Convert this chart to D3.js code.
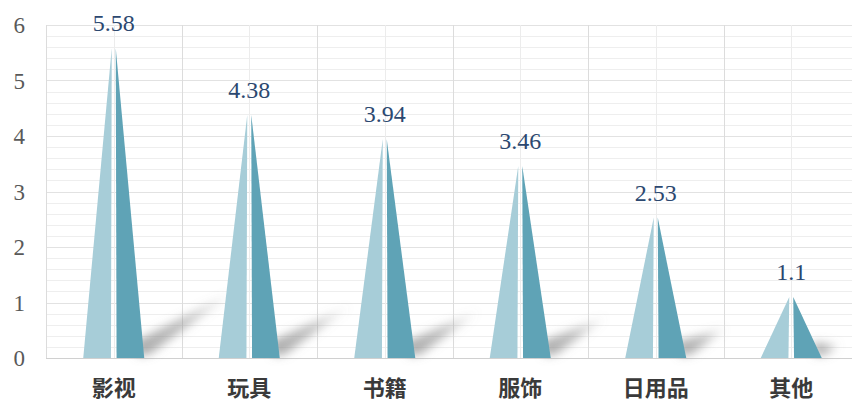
<!DOCTYPE html>
<html>
<head>
<meta charset="utf-8">
<script src="https://cdn.jsdelivr.net/npm/d3@7"></script>
<style>
  html, body { margin: 0; padding: 0; background: #ffffff; }
  svg { display: block; }
</style>
</head>
<body>
<svg id="chart" width="852" height="403"></svg>
<script>
// Category names and their values
const categories = ["影视", "玩具", "书籍", "服饰", "日用品", "其他"];
const values = [5.58, 4.38, 3.94, 3.46, 2.53, 1.1];
const yTicks = [0, 1, 2, 3, 4, 5, 6];

const W = 852, H = 403;
const plot = { left: 46, right: 859, top: 25, bottom: 358 };

const svg = d3.select("#chart");
const defs = svg.append("defs");

const x = d3.scaleBand().domain(categories).range([plot.left, plot.right]).paddingInner(0).paddingOuter(0);
const y = d3.scaleLinear().domain([0, 6]).range([plot.bottom, plot.top]);

// Minor horizontal gridlines every 0.2
const minor = d3.range(0, 6.0001, 0.2).filter(v => Math.abs(v - Math.round(v)) > 1e-6);
svg.append("g").selectAll("line").data(minor).join("line")
  .attr("x1", plot.left).attr("x2", W)
  .attr("y1", d => Math.round(y(d)) + 0.5).attr("y2", d => Math.round(y(d)) + 0.5)
  .attr("stroke", "#eeeeee").attr("stroke-width", 1);

// Major horizontal gridlines
svg.append("g").selectAll("line").data(yTicks).join("line")
  .attr("x1", plot.left).attr("x2", W)
  .attr("y1", d => Math.round(y(d)) + 0.5).attr("y2", d => Math.round(y(d)) + 0.5)
  .attr("stroke", d => d === 0 ? "#d0d0d0" : "#e2e2e2").attr("stroke-width", 1);

// Vertical gridlines: band edges and band centres
const edges = categories.map(c => x(c)).concat([x(categories[categories.length - 1]) + x.bandwidth()]);
svg.append("g").selectAll("line").data(edges).join("line")
  .attr("x1", d => Math.round(d) + 0.5).attr("x2", d => Math.round(d) + 0.5)
  .attr("y1", plot.top).attr("y2", plot.bottom)
  .attr("stroke", "#dcdcdc").attr("stroke-width", 1);
svg.append("g").selectAll("line").data(categories).join("line")
  .attr("x1", d => Math.round(x(d) + x.bandwidth() / 2) + 0.5)
  .attr("x2", d => Math.round(x(d) + x.bandwidth() / 2) + 0.5)
  .attr("y1", plot.top).attr("y2", plot.bottom)
  .attr("stroke", "#ececec").attr("stroke-width", 1);

// Soft cast shadows
defs.append("filter").attr("id", "blur").attr("x", "-50%").attr("y", "-50%").attr("width", "200%").attr("height", "200%")
  .append("feGaussianBlur").attr("stdDeviation", 5);

const halfBase = 30.5, halfGap = 2.8;
const shadowG = svg.append("g").attr("filter", "url(#blur)");
categories.forEach((c, i) => {
  const cx = x(c) + x.bandwidth() / 2;
  const y0 = y(0);
  const h = y0 - y(values[i]);
  const tip = [cx + halfBase + h * 0.3, y0 - h * 0.22];
  const gid = "sg" + i;
  const g = defs.append("linearGradient").attr("id", gid)
    .attr("gradientUnits", "userSpaceOnUse")
    .attr("x1", cx + halfBase).attr("y1", y0).attr("x2", tip[0]).attr("y2", tip[1]);
  g.append("stop").attr("offset", 0).attr("stop-color", "#8a8a8a").attr("stop-opacity", 0.7);
  g.append("stop").attr("offset", 0.45).attr("stop-color", "#8a8a8a").attr("stop-opacity", 0.55);
  g.append("stop").attr("offset", 1).attr("stop-color", "#8a8a8a").attr("stop-opacity", 0);
  shadowG.append("path")
    .attr("d", d3.line()([[cx + halfBase - 6, y0 - 2], [cx + halfBase + 6, y0 - 4], tip, [cx + halfBase - 10, y0 - 16]]) + "Z")
    .attr("fill", `url(#${gid})`);
});

// Split pyramid bars
const bars = svg.append("g");
categories.forEach((c, i) => {
  const cx = x(c) + x.bandwidth() / 2;
  const y0 = y(0), yt = y(values[i]);
  bars.append("path")
    .attr("d", d3.line()([[cx - halfBase, y0], [cx - halfGap, y0], [cx - halfGap + 0.8, yt]]) + "Z")
    .attr("fill", "#a7cdd8");
  bars.append("path")
    .attr("d", d3.line()([[cx + halfGap, y0], [cx + halfBase, y0], [cx + halfGap - 0.8, yt]]) + "Z")
    .attr("fill", "#5fa3b6");
});

// Value labels
svg.append("g").selectAll("text").data(categories).join("text")
  .attr("x", d => x(d) + x.bandwidth() / 2)
  .attr("y", (d, i) => y(values[i]) - 17)
  .attr("text-anchor", "middle")
  .attr("font-family", "'Liberation Serif', 'DejaVu Serif', serif")
  .attr("font-size", 24)
  .attr("fill", "#2c4870")
  .text((d, i) => values[i]);

// Y axis tick labels
svg.append("g").selectAll("text").data(yTicks).join("text")
  .attr("x", 25)
  .attr("y", d => y(d))
  .attr("dy", "0.35em")
  .attr("text-anchor", "end")
  .attr("font-family", "'Liberation Serif', 'DejaVu Serif', serif")
  .attr("font-size", 23)
  .attr("fill", "#595959")
  .text(d => d);

// Category labels
svg.append("g").selectAll("text").data(categories).join("text")
  .attr("x", d => x(d) + x.bandwidth() / 2)
  .attr("y", 388)
  .attr("dy", "0.35em")
  .attr("text-anchor", "middle")
  .attr("font-family", "'Noto Sans CJK SC', sans-serif")
  .attr("font-weight", 700)
  .attr("font-size", 22)
  .attr("fill", "#3a3a3a")
  .text(d => d);
</script>
</body>
</html>
